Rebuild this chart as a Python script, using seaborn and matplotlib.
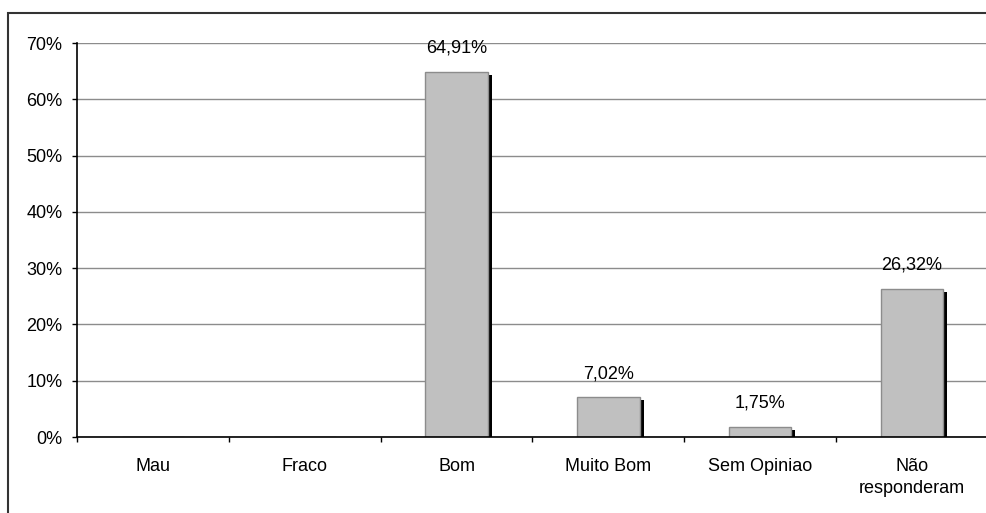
import matplotlib
matplotlib.use("Agg")
import matplotlib.pyplot as plt
from matplotlib.transforms import offset_copy
from matplotlib.patches import Rectangle
from matplotlib.ticker import FuncFormatter, FixedLocator
import seaborn as sns
import numpy as np
import pandas as pd

categories = ["Mau", "Fraco", "Bom", "Muito Bom", "Sem Opiniao", "Não\nresponderam"]
percentages = [0.0, 0.0, 64.91, 7.02, 1.75, 26.32]
y_ticks = [0, 10, 20, 30, 40, 50, 60, 70]

sns.set_theme(style="white")
plt.rcParams["font.family"] = ["Liberation Sans", "DejaVu Sans"]

FS = 13
df = pd.DataFrame({"categoria": categories, "valor": percentages})

fig = plt.figure(figsize=(9.87, 5.13), dpi=100)
ax = fig.add_axes([77 / 987, 76 / 513, 911 / 987, 394 / 513])

# frame around the whole chart area
fig.patches.append(Rectangle((8 / 987, -0.1), 1.2, (500 / 513) + 0.1,
                             transform=fig.transFigure, fill=False,
                             edgecolor="#333333", linewidth=1.5, zorder=0))

# drop shadow: the same bars, shifted right and down
sns.barplot(data=df, x="categoria", y="valor", color="black", width=0.41,
            saturation=1, linewidth=0, ax=ax)
shadow_tr = offset_copy(ax.transData, fig=fig, x=4, y=-3, units="dots")
n_shadow = len(ax.patches)
for p in ax.patches:
    p.set_transform(shadow_tr)
    p.set_zorder(2)

sns.barplot(data=df, x="categoria", y="valor", color="#C0C0C0", width=0.41,
            saturation=1, edgecolor="#8c8c8c", linewidth=1, ax=ax)
for p in ax.patches[n_shadow:]:
    p.set_zorder(3)

# value labels above the non-empty bars
for p, v in zip(ax.patches[n_shadow:], percentages):
    if v > 0:
        ax.annotate(f"{v:.2f}".replace(".", ",") + "%",
                    (p.get_x() + p.get_width() / 2, v),
                    xytext=(0, 14), textcoords="offset points",
                    ha="center", va="baseline", fontsize=FS, color="black")

ax.set_xlim(-0.5, len(categories) - 0.5)
ax.set_ylim(0, 70)
ax.set_yticks(y_ticks)
ax.yaxis.set_major_formatter(FuncFormatter(lambda v, _: f"{int(v)}%"))
ax.yaxis.grid(True, color="#8c8c8c", linewidth=1)
ax.set_axisbelow(True)

ax.xaxis.set_minor_locator(FixedLocator(np.arange(-0.5, len(categories), 1.0)))
ax.tick_params(axis="x", which="major", length=0, pad=15, labelsize=FS, colors="black")
ax.tick_params(axis="x", which="minor", length=3.6, width=1, color="black", direction="out", bottom=True)
ax.tick_params(axis="y", which="major", length=3.6, width=1, color="black", direction="out",
               left=True, pad=7, labelsize=FS, labelcolor="black")
for lbl in ax.get_xticklabels():
    lbl.set_linespacing(1.4)
ax.set_xlabel("")
ax.set_ylabel("")

for side in ["top", "right"]:
    ax.spines[side].set_visible(False)
for side in ["left", "bottom"]:
    ax.spines[side].set_visible(True)
    ax.spines[side].set_color("black")
    ax.spines[side].set_linewidth(1.2)
ax.spines["bottom"].set_zorder(4)

fig.savefig("out.png", dpi=100)
